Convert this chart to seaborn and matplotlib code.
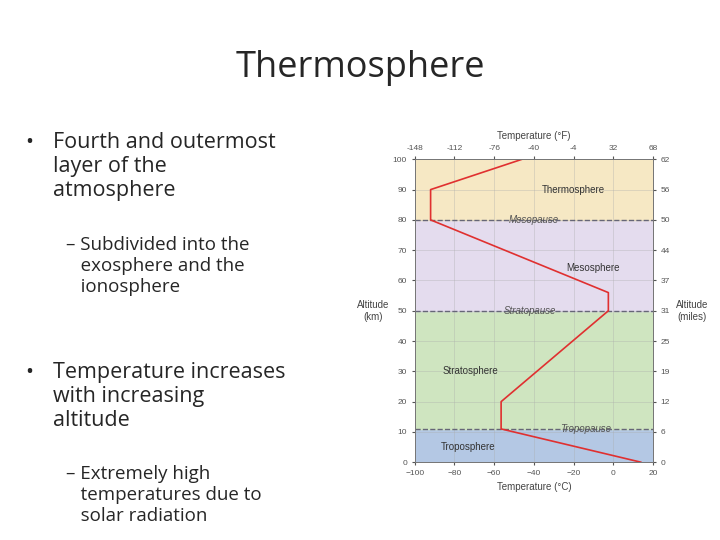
import seaborn as sns
import matplotlib.pyplot as plt
import pandas as pd

# temperature profile (deg C vs km)
temp_c = [14, -56.5, -56.5, -2.5, -2.5, -92, -92, -46]
alt_km = [0, 11, 20, 50, 56, 80, 90, 100]

km_ticks = [0, 10, 20, 30, 40, 50, 60, 70, 80, 90, 100]
mile_labels = ["0", "6", "12", "19", "25", "31", "37", "44", "50", "56", "62"]
c_ticks = [-100, -80, -60, -40, -20, 0, 20]
f_labels = ["-148", "-112", "-76", "-40", "-4", "32", "68"]

layers = [("Troposphere", 0, 11, "#b4c8e4", -73, 5),
          ("Stratosphere", 11, 50, "#cfe5c0", -72, 30),
          ("Mesosphere", 50, 80, "#e4dcee", -10, 64),
          ("Thermosphere", 80, 100, "#f6e8c4", -20, 90)]
pauses = [("Tropopause", 11, -14), ("Stratopause", 50, -42), ("Mesopause", 80, -40)]

sns.set_style("white")
plt.rcParams['font.family'] = ['Liberation Sans', 'DejaVu Sans']

fig = plt.figure(figsize=(7.2, 5.4), dpi=100)
fig.text(0.5, 0.874, "Thermosphere", ha="center", va="center", fontsize=26, family="Open Sans")

bullets = [
    (0.035, 0.756, "•", 15.5), (0.073, 0.756, "Fourth and outermost\nlayer of the\natmosphere", 15.5),
    (0.092, 0.563, "– Subdivided into the\n   exosphere and the\n   ionosphere", 13.5),
    (0.035, 0.33, "•", 15.5), (0.073, 0.33, "Temperature increases\nwith increasing\naltitude", 15.5),
    (0.092, 0.139, "– Extremely high\n   temperatures due to\n   solar radiation", 13.5),
]
for x, y, t, s in bullets:
    fig.text(x, y, t, fontsize=s, family="Open Sans", linespacing=1.2, va="top")

ax = fig.add_axes([0.576, 0.144, 0.331, 0.561])
for name, lo, hi, col, tx, ty in layers:
    ax.axhspan(lo, hi, color=col, zorder=0)
    ax.text(tx, ty, name, fontsize=7, ha="center", va="center", color="#333333")
for name, y, tx in pauses:
    ax.axhline(y, color="#666677", ls="--", lw=1, zorder=2)
    ax.text(tx, y, name, fontsize=7, style="italic", ha="center", va="center", color="#555555")
ax.grid(True, color="#aaaaaa", lw=0.4, alpha=0.6)
df = pd.DataFrame({"temp": temp_c, "alt": alt_km})
sns.lineplot(data=df, x="temp", y="alt", sort=False, estimator=None, errorbar=None,
             color="#e03030", lw=1.2, ax=ax, zorder=3)
ax.set_xlim(-100, 20)
ax.set_ylim(0, 100)
ax.set_xticks(c_ticks)
ax.set_yticks(km_ticks)
ax.tick_params(labelsize=6, colors="#555555", length=2)
ax.set_xlabel("Temperature (°C)", fontsize=7, color="#444444")
ax.set_ylabel("Altitude\n(km)", fontsize=7, rotation=0, color="#444444", labelpad=14, va="center")

ax_top = ax.twiny()
ax_top.set_xlim(-100, 20)
ax_top.set_xticks(c_ticks)
ax_top.set_xticklabels(f_labels)
ax_top.tick_params(labelsize=6, colors="#555555", length=2)
ax_top.set_xlabel("Temperature (°F)", fontsize=7, color="#444444")

ax_r = ax.twinx()
ax_r.set_ylim(0, 100)
ax_r.set_yticks(km_ticks)
ax_r.set_yticklabels(mile_labels)
ax_r.tick_params(labelsize=6, colors="#555555", length=2)
ax_r.set_ylabel("Altitude\n(miles)", fontsize=7, rotation=0, color="#444444", labelpad=16, va="center")
for a in (ax, ax_top, ax_r):
    for sp in a.spines.values():
        sp.set_color("#777777")
        sp.set_linewidth(0.6)

fig.savefig("out.png", dpi=100)
